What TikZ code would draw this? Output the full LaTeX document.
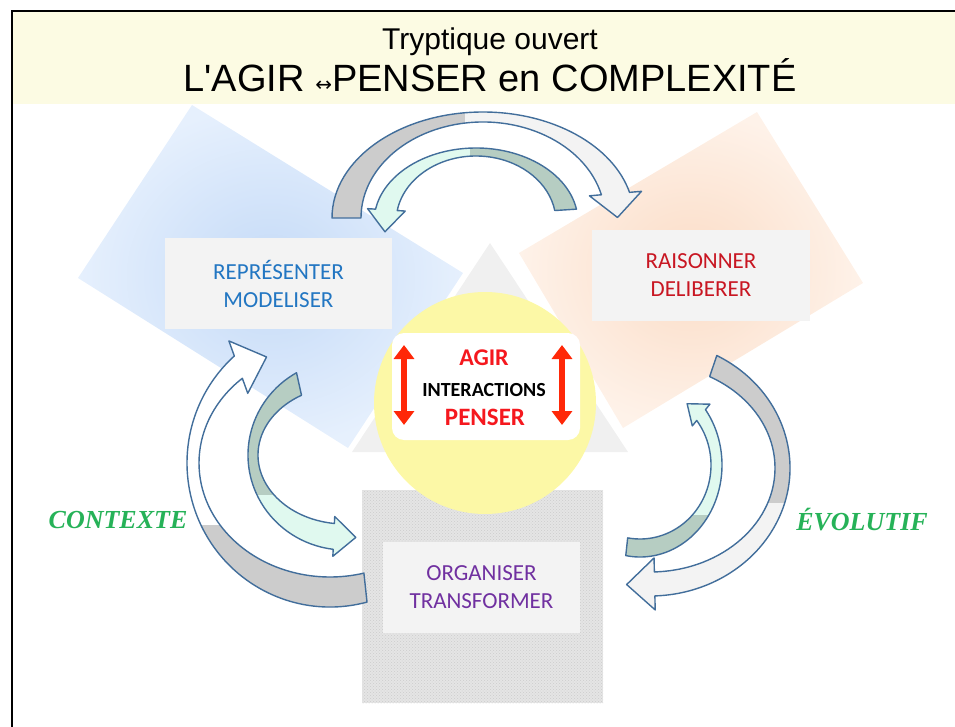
\documentclass[tikz,border=0pt]{standalone}
\usepackage{fontspec}
\setmainfont{Liberation Sans}
\newfontfamily\boxfont{Carlito}
\newfontfamily\labelfont{Liberation Serif}
\newfontfamily\symfont{DejaVu Sans}
\usetikzlibrary{calc}
\usetikzlibrary{arrows.meta}
\usetikzlibrary{patterns}

\definecolor{bandyellow}{RGB}{252,251,227}
\definecolor{bluecore}{RGB}{196,218,247}
\definecolor{blueedge}{RGB}{230,240,253}
\definecolor{peachcore}{RGB}{251,220,198}
\definecolor{peachedge}{RGB}{254,242,233}
\definecolor{trigray}{RGB}{240,240,240}
\definecolor{granite}{RGB}{229,229,229}
\definecolor{sunyellow}{RGB}{252,248,166}
\definecolor{boxgray}{RGB}{243,243,243}
\definecolor{blueink}{RGB}{34,118,194}
\definecolor{redink}{RGB}{200,22,34}
\definecolor{violetink}{RGB}{112,48,160}
\definecolor{greenink}{RGB}{38,178,88}
\definecolor{textred}{RGB}{245,24,30}
\definecolor{alarm}{RGB}{255,40,8}
\definecolor{edgeblue}{RGB}{66,110,155}
\definecolor{backgray}{RGB}{204,204,204}
\definecolor{frontgray}{RGB}{243,243,243}
\definecolor{backgreen}{RGB}{182,205,194}
\definecolor{mint}{RGB}{224,249,239}

\begin{document}
\begin{tikzpicture}[x=1pt,y=-1pt,
  every node/.style={inner sep=0pt},
  labelbox/.style={fill=boxgray, minimum width=#1, minimum height=91pt, align=center,
    font=\boxfont\fontsize{23}{28}\selectfont},
  arrowline/.style={draw=edgeblue, line width=1.4pt, line join=round},
  updown/.style={alarm, line width=6pt, {Triangle[length=14pt,width=20pt]}-{Triangle[length=14pt,width=20pt]}},
  corner/.style={font=\labelfont\bfseries\itshape\fontsize{26}{26}\selectfont, text=greenink}]
\useasboundingbox (0,0) rectangle (955,727);

% bandeau du titre et cadre
\fill[bandyellow] (12,11) rectangle (955,104);
\draw[line width=2pt] (12,740) -- (12,11) -- (960,11);

% les deux losanges et le triangle
\shade[inner color=bluecore, outer color=blueedge] (192,105) -- (463,273) -- (348,448) -- (78,278) -- cycle;
\shade[inner color=peachcore, outer color=peachedge] (757,112) -- (863,283) -- (623,428) -- (519,253) -- cycle;
\fill[trigray] (490,243) -- (628,452) -- (352,452) -- cycle;

% fond granit sous ORGANISER
\node[fill=granite, postaction={pattern=crosshatch dots, pattern color=gray!40},
  minimum width=241pt, minimum height=213pt] (grain) at (482.5,596.5) {};

% coeur : AGIR / PENSER
\node[circle, fill=sunyellow, minimum size=222pt] (sun) at (485,403) {};
\node[fill=white, rounded corners=12pt, minimum width=188pt, minimum height=107pt] (core) at (486,386.5) {};
\node[font=\boxfont\bfseries\fontsize{24}{24}\selectfont, text=textred] (agir) at (484,358) {AGIR};
\node[font=\boxfont\bfseries\fontsize{20}{20}\selectfont] (inter) at (484,390) {INTERACTIONS};
\node[font=\boxfont\bfseries\fontsize{25}{25}\selectfont, text=textred] (penser) at (485,417) {PENSER};
\coordinate (lup) at (404,345);
\coordinate (ldown) at (404,425);
\coordinate (rup) at (562,345);
\coordinate (rdown) at (562,425);
\draw[updown] (lup) -- (ldown);
\draw[updown] (rup) -- (rdown);

% les trois postes
\node[labelbox=227pt, text=blueink] (rep) at (278.5,283.5) {REPRÉSENTER\\MODELISER};
\node[labelbox=218pt, text=redink] (rai) at (701,275.5) {RAISONNER\\DELIBERER};
\node[labelbox=197pt, text=violetink] (org) at (481.5,587.5) {ORGANISER\\TRANSFORMER};

% fleches courbes du haut
\coordinate (a1o) at ([shift={(483,218)}]346:151 and 106);
\coordinate (a1i) at ([shift={(483,218)}]346:122 and 96);
\path[arrowline, fill=frontgray, path picture={\fill[backgray] (0,0) rectangle (465,727);}]
  ([shift={(483,218)}]180:151 and 106) arc[start angle=180, end angle=346, x radius=151, y radius=106]
  -- ($(a1o)!-12pt!(a1i)$) -- ($(a1o)!0.5!(a1i)!24pt!90:(a1i)$) -- ($(a1i)!-12pt!(a1o)$)
  -- (a1i) arc[start angle=346, end angle=180, x radius=122, y radius=96] -- cycle;
\coordinate (a2o) at ([shift={(476,222)}]190:102 and 74);
\coordinate (a2i) at ([shift={(476,222)}]190:80 and 66);
\path[arrowline, fill=mint, path picture={\fill[backgreen] (470,0) rectangle (955,727);}]
  ([shift={(476,222)}]350:102 and 74) arc[start angle=350, end angle=190, x radius=102, y radius=74]
  -- ($(a2o)!-8pt!(a2i)$) -- ($(a2o)!0.5!(a2i)!22pt!-90:(a2i)$) -- ($(a2i)!-8pt!(a2o)$)
  -- (a2i) arc[start angle=190, end angle=350, x radius=80, y radius=66] -- cycle;

% fleches courbes de gauche
\coordinate (a3o) at ([shift={(330,463)}]228:143 and 144);
\coordinate (a3i) at ([shift={(330,463)}]228:131 and 114);
\path[arrowline, fill=white, path picture={\fill[backgray] (0,525) rectangle (955,727);}]
  ([shift={(330,463)}]75:143 and 144) arc[start angle=75, end angle=228, x radius=143, y radius=144]
  -- ($(a3o)!-16pt!(a3i)$) -- ($(a3o)!0.5!(a3i)!30pt!90:(a3i)$) -- ($(a3i)!-16pt!(a3o)$)
  -- (a3i) arc[start angle=228, end angle=75, x radius=131, y radius=114] -- cycle;
\coordinate (a4o) at ([shift={(345,455)}]97:97 and 95);
\coordinate (a4i) at ([shift={(345,455)}]97:87 and 69);
\path[arrowline, fill=mint, path picture={\fill[backgreen] (0,0) rectangle (955,495);}]
  ([shift={(345,455)}]240:97 and 95) arc[start angle=240, end angle=97, x radius=97, y radius=95]
  -- ($(a4o)!-7pt!(a4i)$) -- ($(a4o)!0.5!(a4i)!22pt!-90:(a4i)$) -- ($(a4i)!-7pt!(a4o)$)
  -- (a4i) arc[start angle=97, end angle=240, x radius=87, y radius=69] -- cycle;

% fleches courbes de droite
\coordinate (a5o) at ([shift={(650,468)}]88:140 and 128);
\coordinate (a5i) at ([shift={(650,468)}]88:125 and 104);
\path[arrowline, fill=frontgray, path picture={\fill[backgray] (0,0) rectangle (955,503);}]
  ([shift={(650,468)}]298.5:140 and 128) arc[start angle=-61.5, end angle=88, x radius=140, y radius=128]
  -- ($(a5o)!-14pt!(a5i)$) -- ($(a5o)!0.5!(a5i)!28pt!90:(a5i)$) -- ($(a5i)!-14pt!(a5o)$)
  -- (a5i) arc[start angle=88, end angle=-61.5, x radius=125, y radius=104] -- cycle;
\coordinate (a6o) at ([shift={(640,465)}]323:82 and 92);
\coordinate (a6i) at ([shift={(640,465)}]323:71 and 74);
\path[arrowline, fill=mint, path picture={\fill[backgreen] (0,515) rectangle (955,727);}]
  ([shift={(640,465)}]100:82 and 92) arc[start angle=100, end angle=-37, x radius=82, y radius=92]
  -- ($(a6o)!-7pt!(a6i)$) -- ($(a6o)!0.5!(a6i)!18pt!-90:(a6i)$) -- ($(a6i)!-7pt!(a6o)$)
  -- (a6i) arc[start angle=-37, end angle=100, x radius=71, y radius=74] -- cycle;

% textes
\node[corner] (ctx) at (118,520) {CONTEXTE};
\node[corner] (evo) at (862,520) {ÉVOLUTIF};
\node[anchor=base, font=\fontsize{30}{30}\selectfont] (sub) at (490,50) {Tryptique ouvert};
\node[anchor=base, font=\fontsize{38}{38}\selectfont] (head) at (490,92)
  {L{\addfontfeatures{Ligatures=TeXOff}'}AGIR {\symfont\fontsize{20}{20}\selectfont ↔}PENSER en COMPLEXITÉ};
\end{tikzpicture}
\end{document}
